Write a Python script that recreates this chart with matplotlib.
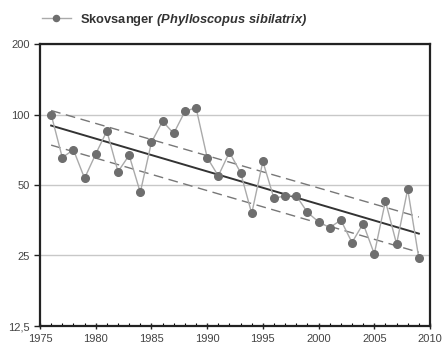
import matplotlib.pyplot as plt
from matplotlib.ticker import FixedLocator, FixedFormatter, MultipleLocator, NullFormatter

# Skovsanger index values (1976 = 100)
years = list(range(1976, 2010))
index_values = [100, 65.5, 70.7, 53.4, 67.8, 85, 57, 67, 46.5, 76,
                93.6, 83, 103, 107, 65.5, 54.7, 69, 56.5, 37.8, 63,
                43.8, 45, 45, 38.2, 34.8, 32.9, 35.4, 28.4, 34.2, 25.4,
                42.7, 28, 48, 24.3]

# trend line and its confidence limits at first and last year
trend_years = [1976, 2009]
trend = [89.7, 31.0]
trend_upper = [104, 36.5]
trend_lower = [74, 25.8]

y_ticks = [12.5, 25, 50, 100, 200]
y_labels = ["12,5", "25", "50", "100", "200"]

plt.rcParams['font.family'] = ['Liberation Sans', 'DejaVu Sans']
plt.rcParams['mathtext.fontset'] = 'custom'
plt.rcParams['mathtext.bfit'] = 'Liberation Sans:bold:italic'
plt.rcParams['mathtext.bf'] = 'Liberation Sans:bold'
plt.rcParams['mathtext.rm'] = 'Liberation Sans'

fig = plt.figure(figsize=(4.46, 3.54), dpi=100)
ax = fig.add_axes([40 / 446, 1 - 326 / 354, 390 / 446, 282 / 354])

ax.plot(trend_years, trend_upper, color='#777777', lw=1, ls=(0, (7, 4)), zorder=2)
ax.plot(trend_years, trend_lower, color='#777777', lw=1, ls=(0, (7, 4)), zorder=2)
ax.plot(trend_years, trend, color='#333333', lw=1.4, zorder=3)
line, = ax.plot(years, index_values, color='#aaaaaa', lw=1, marker='o',
                markersize=5.5, markerfacecolor='#6e6e6e', markeredgecolor='#6e6e6e',
                zorder=4)

ax.set_yscale('log')
ax.set_ylim(12.5, 200)
ax.set_xlim(1975, 2010)
ax.yaxis.set_major_locator(FixedLocator(y_ticks))
ax.yaxis.set_major_formatter(FixedFormatter(y_labels))
ax.yaxis.set_minor_locator(FixedLocator([]))
ax.yaxis.set_minor_formatter(NullFormatter())
ax.xaxis.set_major_locator(MultipleLocator(5))
ax.xaxis.set_minor_locator(MultipleLocator(1))

ax.grid(axis='y', color='#c8c8c8', lw=1)
ax.set_axisbelow(True)
for s in ax.spines.values():
    s.set_linewidth(1.6)
    s.set_color('#222222')

ax.tick_params(axis='both', which='major', labelsize=8, labelcolor='#444444',
               length=4, width=1, color='#222222')
ax.tick_params(axis='x', which='major', direction='inout', length=5)
ax.tick_params(axis='x', which='minor', direction='in', length=2, width=0.8)

leg = fig.legend([line], ['Skovsanger $\\mathbfit{(Phylloscopus\\ sibilatrix)}$'],
                 loc='upper left', bbox_to_anchor=(30 / 446, 1.0), frameon=False,
                 handlelength=2.3, handletextpad=0.7, markerscale=0.8,
                 prop={'weight': 'bold', 'size': 9.3})
for t in leg.get_texts():
    t.set_color('#333333')

fig.savefig('out.png', dpi=100)
